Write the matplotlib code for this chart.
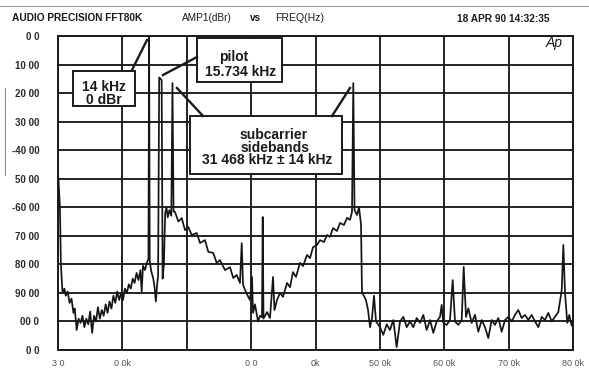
import matplotlib
matplotlib.use("Agg")
import matplotlib.pyplot as plt
from matplotlib.patches import Rectangle
from matplotlib.lines import Line2D

W, H = 589, 370
plt.rcParams['font.family'] = ['Liberation Sans', 'DejaVu Sans']

# ---- data (kHz, dBr) ----
freq_khz = [
    0.05, 0.30, 0.45, 0.70, 1.00, 1.20, 1.50, 1.80, 2.10, 2.40, 2.60, 2.90,
    3.20, 3.50, 3.80, 4.10, 4.40, 4.70, 5.00, 5.30, 5.60, 5.90, 6.20, 6.50,
    6.80, 7.10, 7.40, 7.70, 8.00, 8.30, 8.60, 8.90, 9.20, 9.50, 9.80, 10.10,
    10.40, 10.70, 11.00, 11.30, 11.60, 11.90, 12.20, 12.50, 12.80, 13.00, 13.20, 13.50,
    13.80, 14.05, 14.15, 14.25, 14.50, 14.80, 15.00, 15.20, 15.40, 15.55, 15.72, 16.10,
    16.25, 16.45, 16.65, 16.85, 17.05, 17.30, 17.60, 17.78, 17.95, 18.17, 18.69, 19.22,
    19.73, 20.24, 20.77, 21.55, 22.06, 22.83, 23.35, 24.12, 24.65, 25.16, 25.94, 26.72,
    27.23, 27.76, 28.27, 28.54, 28.74, 29.05, 29.56, 29.83, 30.14, 30.29, 30.60, 31.07,
    31.38, 31.69, 31.80, 31.92, 32.47, 32.93, 33.40, 33.63, 34.02, 34.49, 34.95, 35.57,
    36.04, 36.50, 36.97, 37.59, 38.06, 38.68, 39.15, 39.61, 40.23, 40.70, 41.32, 41.79,
    42.25, 42.72, 43.34, 43.81, 44.43, 44.89, 45.36, 45.67, 45.87, 46.06, 46.45, 46.76,
    47.07, 47.22, 47.84, 48.16, 48.47, 48.78, 49.09, 49.40, 49.71, 50.02, 50.53, 51.06,
    51.57, 52.09, 52.61, 53.13, 53.64, 54.17, 54.68, 55.19, 55.72, 56.23, 56.75, 57.27,
    57.79, 58.30, 58.83, 59.34, 59.60, 59.85, 60.38, 60.89, 61.31, 61.67, 62.18, 62.71,
    63.02, 63.38, 63.74, 64.26, 64.78, 65.29, 65.82, 66.33, 66.84, 67.37, 67.88, 68.40,
    68.92, 69.44, 69.95, 70.48, 70.99, 71.50, 72.03, 72.54, 73.06, 73.58, 74.10, 74.61,
    75.14, 75.65, 76.17, 76.69, 77.20, 77.72, 78.25, 78.50, 78.76, 79.11, 79.42, 79.80,
    80.00,
]
level_db = [
    -49.5, -60, -80, -90, -88.5, -91, -89.5, -93.5, -92, -97, -95.5, -103,
    -99, -100.5, -98, -102, -99, -101, -96.5, -104, -98, -100, -95, -99,
    -96, -98, -94, -97, -93, -95.5, -91, -93.5, -89.5, -92.5, -90, -92.5,
    -88.5, -90, -87, -88.5, -85, -86.5, -83, -85.5, -82, -89.5, -80.5, -82,
    -79.5, -78, 0, -79, -82.5, -85, -88, -93, -87, -84, -14.5, -15.5,
    -85, -80, -62, -60, -63.5, -61, -63, -16.5, -61.5, -61.6, -65, -63.8,
    -68, -66.9, -69.7, -69, -72.5, -71.5, -75.6, -76, -79.5, -78.5, -82, -81,
    -84.8, -83.7, -86.5, -72.6, -87, -89, -91.4, -92.5, -84.4, -97, -94, -100,
    -98, -98.5, -63.4, -99, -96.7, -98.8, -84.4, -96, -92.5, -90, -91.4, -86.5,
    -88, -82.7, -84.4, -79.5, -80.6, -76.7, -77.8, -74, -73.2, -71.5, -72.2, -69.7,
    -70.4, -67.3, -68.3, -65.5, -66.2, -63.7, -64.4, -61.6, -16.5, -61, -62.7, -60,
    -66, -89.7, -92.5, -96, -102, -98.8, -91, -100, -101, -102, -104.7, -101,
    -103, -99.5, -109, -100, -98.4, -102, -100, -102, -98.8, -100.5, -97.7, -103,
    -99.5, -104, -100, -98.4, -94.2, -100.5, -101.2, -99.5, -85.5, -100, -101.2, -99.5,
    -80.9, -98.4, -95.4, -100.5, -97.7, -103.6, -99.5, -102, -105.8, -99.5, -101.2, -98.8,
    -103.6, -99.5, -98.4, -100, -97.7, -96, -98.8, -97.7, -99.5, -97.7, -100, -102,
    -98.4, -99.5, -97, -100, -98.4, -96.7, -89, -73.2, -90, -100.5, -97.7, -101.5,
    -99.5,
]

y_ticks = [0, -10, -20, -30, -40, -50, -60, -70, -80, -90, -100, -110]
y_tick_labels = ["0 0", "10 00", "20 00", "30 00", "-40 00", "50 00",
                 "-60 00", "70 00", "80 00", "90 00", "00 0", "0 0"]
x_ticks = [0, 10, 20, 30, 40, 50, 60, 70, 80]
x_tick_labels = ["3 0", "0 0k", "", "0 0", "0k", "50 0k", "60 0k", "70 0k", "80 0k"]

INK = '#1a1a1a'


def fx(x):
    return x / W


def fy(y):
    return 1 - y / H


fig = plt.figure(figsize=(W / 100, H / 100), dpi=100)
fig.patch.set_facecolor('white')
ax = fig.add_axes([fx(58), fy(350), (573 - 58) / W, (350 - 36) / H])
ax.set_xlim(0, 80)
ax.set_ylim(-110, 0)
ax.set_axisbelow(True)
ax.grid(True, color=INK, lw=1.35)
for s in ax.spines.values():
    s.set_linewidth(1.4)
    s.set_color(INK)
ax.set_yticks(y_ticks)
ax.set_yticklabels(y_tick_labels, fontsize=7, fontweight='bold', color='#2a2a2a')
ax.set_xticks(x_ticks)
ax.set_xticklabels(x_tick_labels, fontsize=6.5, color='#555555')
ax.tick_params(axis='y', length=0, pad=13.5)
ax.tick_params(axis='x', length=0, pad=6.5)
ax.plot(freq_khz, level_db, color='#151515', lw=1.25, zorder=3)

# header
fig.text(fx(12), fy(18), "AUDIO PRECISION FFT80K", fontsize=7.3, fontweight='bold',
         color=INK, ha='left', va='center')
fig.text(fx(182), fy(18), "AMP1(dBr)", fontsize=7.2, color=INK, ha='left', va='center')
fig.text(fx(250), fy(18), "vs", fontsize=7.2, fontweight='bold', color=INK, ha='left', va='center')
fig.text(fx(275), fy(18), "FREQ(Hz)", fontsize=7.6, color=INK, ha='left', va='center')
fig.text(fx(457), fy(19), "18 APR 90 14:32:35", fontsize=7.3, fontweight='bold',
         color=INK, ha='left', va='center')
fig.text(fx(554), fy(43), "Ap", fontsize=10, fontstyle='italic', color=INK,
         ha='center', va='center')

# scan artefacts
fig.add_artist(Line2D([0, 1], [fy(6), fy(6)], transform=fig.transFigure,
                      color='#9a9a9a', lw=0.8))
fig.add_artist(Line2D([fx(5), fx(5)], [fy(88), fy(175)], transform=fig.transFigure,
                      color='#888888', lw=0.8))


def box(x0, y0, x1, y1):
    r = Rectangle((fx(x0), fy(y1)), (x1 - x0) / W, (y1 - y0) / H,
                  transform=fig.transFigure, facecolor='white', edgecolor=INK,
                  lw=1.4, zorder=10)
    fig.add_artist(r)


def leader(x0, y0, x1, y1):
    fig.add_artist(Line2D([fx(x0), fx(x1)], [fy(y0), fy(y1)], transform=fig.transFigure,
                          color=INK, lw=1.7, zorder=11))


def label(x, y, s):
    fig.text(fx(x), fy(y), s, fontsize=10, fontweight='bold', color=INK,
             ha='center', va='center', zorder=12)


box(73, 71, 135, 106)
label(104, 87, "14 kHz")
label(104, 100, "0 dBr")
leader(132, 70, 147, 40)

box(197, 38, 282, 82)
label(234, 57, "pilot")
label(240.5, 72, "15.734 kHz")
leader(163, 75, 197, 57)

box(190, 116, 342, 174)
label(274, 135, "subcarrier")
label(275, 147.5, "sidebands")
label(267, 160, "31 468 kHz \u00b1 14 kHz")
leader(203, 116, 177, 88)
leader(332, 116, 350, 88)

fig.savefig("out.png", dpi=100, facecolor='white')
